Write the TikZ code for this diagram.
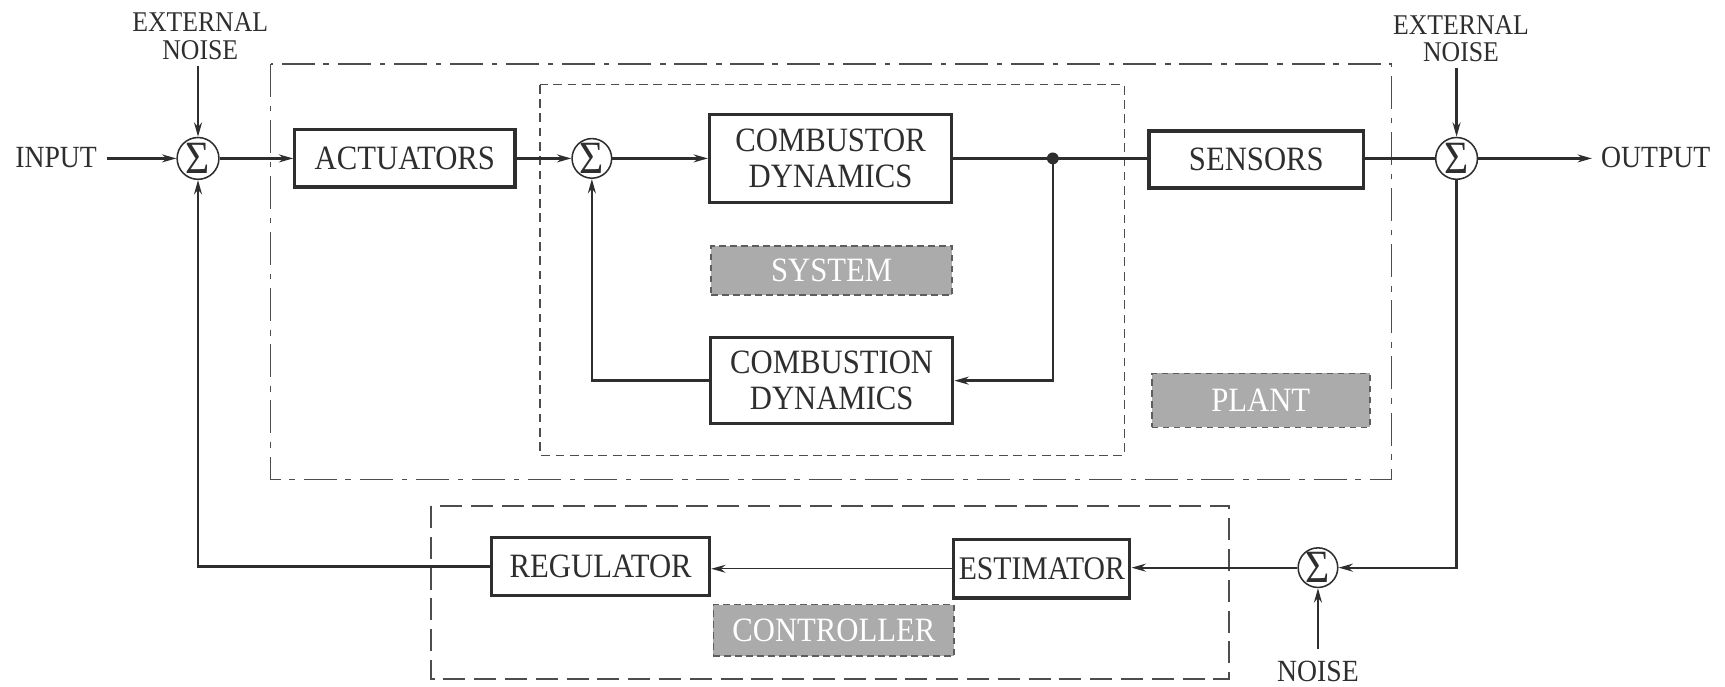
\documentclass[tikz,border=0pt]{standalone}
\usepackage{fontspec}
\setmainfont{Liberation Serif}[FakeStretch=0.9]
\usetikzlibrary{arrows.meta}
\definecolor{ink}{HTML}{2E2E2E}
\definecolor{tagfill}{HTML}{ABABAB}
\definecolor{tagedge}{HTML}{5E5E5E}

\begin{document}
\begin{tikzpicture}[x=0.5pt,y=-0.5pt,
  line/.style={draw=ink, line width=1.05pt},
  arr/.style={line, -{Stealth[length=6.5pt,width=3.6pt]}},
  thinarr/.style={draw=ink, line width=0.6pt, -{Stealth[length=6.5pt,width=3.6pt]}},
  block/.style={draw=ink, line width=1.5pt, fill=white, align=center, inner sep=0pt,
    text=ink, font=\fontsize{15.5}{16.5}\selectfont},
  sumnode/.style={circle, draw=ink, line width=0.7pt, minimum size=19pt, inner sep=0pt,
    text=ink, font=\fontsize{21}{21}\selectfont},
  tag/.style={fill=tagfill, draw=tagedge, line width=0.8pt, dash pattern=on 3pt off 2pt,
    text=white, inner sep=0pt, font=\fontsize{15.5}{16}\selectfont},
  lbl/.style={text=ink, align=center, inner sep=0pt, font=\fontsize{14}{14}\selectfont},
  smalllbl/.style={text=ink, align=center, inner sep=0pt, font=\fontsize{13}{12.5}\selectfont},
  plantframe/.style={draw=ink!85, line width=0.7pt, dash pattern=on 15pt off 4pt on 2.5pt off 4pt},
  systemframe/.style={draw=ink!85, line width=0.7pt, dash pattern=on 4pt off 2.5pt},
  ctrlframe/.style={draw=ink!85, line width=0.7pt, dash pattern=on 10pt off 4pt}]

\useasboundingbox (0,0) rectangle (1568,624);

% grouping frames
\draw[plantframe] (246,58) rectangle (1265,436);
\draw[systemframe] (491,77) rectangle (1022,414);
\draw[ctrlframe] (392,460) rectangle (1117,617);

% forward path
\node[lbl] (in) at (51,143) {INPUT};
\coordinate (inend) at (97,144);
\node[smalllbl] (extl) at (182,33) {EXTERNAL\\NOISE};
\coordinate (extlend) at (180,60);
\node[sumnode] (s1) at (180,144) {Σ};
\node[block, minimum width=100pt, minimum height=26pt] (act) at (368,144) {ACTUATORS};
\node[sumnode, minimum size=18pt] (s2) at (538,144) {Σ};
\node[block, minimum width=110pt, minimum height=40pt] (cor) at (755,144) {COMBUSTOR\\DYNAMICS};
\node[block, minimum width=110pt, minimum height=39pt] (cion) at (756,346) {COMBUSTION\\DYNAMICS};
\node[tag, minimum width=109.5pt, minimum height=22.5pt] (sys) at (756,246) {SYSTEM};
\coordinate (tap) at (957,144);
\node[block, minimum width=97.5pt, minimum height=26pt] (sen) at (1142,145) {SENSORS};
\node[tag, minimum width=99pt, minimum height=24.5pt] (plant) at (1146,364) {PLANT};
\node[smalllbl] (extr) at (1328,35) {EXTERNAL\\NOISE};
\coordinate (extrend) at (1324,62);
\node[sumnode] (s3) at (1324,144) {Σ};
\coordinate (outend) at (1447,144);
\node[lbl] (out) at (1505,143) {OUTPUT};

% feedback path
\node[sumnode, minimum size=18pt] (s4) at (1198,516) {Σ};
\node[lbl] (noise) at (1198,610) {NOISE};
\coordinate (noiseend) at (1198,590);
\node[block, minimum width=80pt, minimum height=26.5pt, font=\fontsize{15}{16}\selectfont] (est) at (947,517) {ESTIMATOR};
\node[block, minimum width=99pt, minimum height=26.5pt] (reg) at (546,515) {REGULATOR};
\node[tag, minimum width=109.5pt, minimum height=23.5pt] (ctrl) at (758,573) {CONTROLLER};

% connectors
\draw[arr] (inend) -- (s1.west);
\draw[arr] (extlend) -- (s1.north);
\draw[arr] (s1.east) -- (act.west);
\draw[arr] (act.east) -- (s2.west);
\draw[arr] (s2.east) -- (cor.west);
\draw[line] (cor.east) -- (tap) -- (sen.west |- tap);
\fill[ink] (tap) circle (2.7pt);
\draw[arr] (tap) |- (cion.east);
\draw[arr] (cion.west) -| (s2.south);
\draw[line] (sen.east |- s3) -- (s3.west);
\draw[arr] (extrend) -- (s3.north);
\draw[arr] (s3.east) -- (outend);
\draw[arr] (s3.south) |- (s4.east);
\draw[arr] (noiseend) -- (s4.south);
\draw[arr] (s4.west) -- (est.east |- s4);
\draw[thinarr] (est.west) -- (reg.east |- est);
\draw[arr] (reg.west) -| (s1.south);
\end{tikzpicture}
\end{document}
